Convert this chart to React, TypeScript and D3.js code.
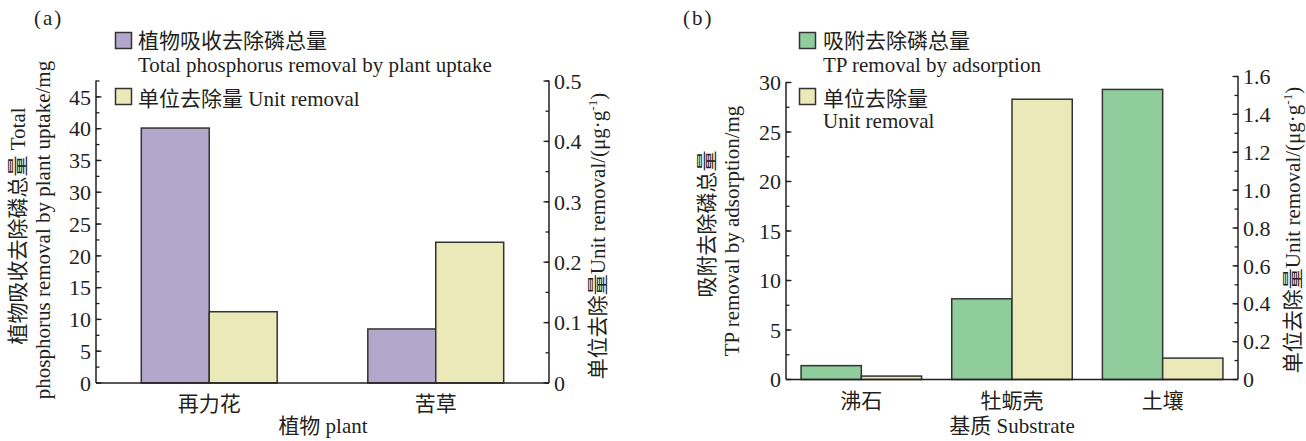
import React from 'react';
import * as d3 from 'd3';

const plants = ['再力花', '苦草'];
const plantTotal = [40.1, 8.5];
const plantUnit = [0.118, 0.233];

const substrates = ['沸石', '牡蛎壳', '土壤'];
const adsTotal = [1.4, 8.15, 29.3];
const adsUnit = [0.018, 1.48, 0.113];

const leftTicksA = d3.range(0, 46, 5);
const rightTicksA = [0, 0.1, 0.2, 0.3, 0.4, 0.5];
const leftTicksB = d3.range(0, 31, 5);
const rightTicksB = [0, 0.2, 0.4, 0.6, 0.8, 1.0, 1.2, 1.4, 1.6];

const FONT = "'Liberation Serif', 'Noto Sans CJK SC', serif";
const INK = '#231f20';
const PURPLE = '#b3a7cc';
const YELLOW = '#ece9b8';
const GREEN = '#8fcd9c';
const FS = 21;

function VAxis({ scale, ticks, minor, x, side, fmt, y0, y1 }: any) {
  const dir = side === 'left' ? 1 : -1;
  return (
    <g>
      <line x1={x} x2={x} y1={y0} y2={y1} stroke={INK} strokeWidth={1.5} />
      {minor.map((t: number, i: number) => (
        <line key={'m' + i} x1={x} x2={x + dir * 3.5} y1={scale(t)} y2={scale(t)} stroke={INK} strokeWidth={1.3} />
      ))}
      {ticks.map((t: number, i: number) => (
        <g key={i}>
          <line x1={x} x2={x + dir * 5.5} y1={scale(t)} y2={scale(t)} stroke={INK} strokeWidth={1.3} />
          <text
            x={side === 'left' ? x - 5 : x + 5}
            y={scale(t)}
            dy="0.35em"
            textAnchor={side === 'left' ? 'end' : 'start'}
            fontSize={FS + 1}
            fill={INK}
          >
            {fmt(t)}
          </text>
        </g>
      ))}
    </g>
  );
}

export default function App() {
  // Panel A
  const xA = d3.scaleBand<string>().domain(plants).range([96, 549]).padding(0);
  const yAL = d3.scaleLinear().domain([0, 47.5]).range([383, 81]);
  const yAR = d3.scaleLinear().domain([0, 0.5]).range([383, 81]);
  const bwA = xA.bandwidth() * 0.3;
  const minorAL = d3.range(0, 47.6, 2.5);
  const minorAR = d3.range(0, 0.501, 0.05);

  // Panel B
  const xB = d3.scaleBand<string>().domain(substrates).range([786, 1238]).padding(0);
  const yBL = d3.scaleLinear().domain([0, 30]).range([379.5, 82.5]);
  const yBR = d3.scaleLinear().domain([0, 1.6]).range([379.5, 76.5]);
  const bwB = xB.bandwidth() * 0.4;
  const minorBL = d3.range(0, 30.1, 2.5);
  const minorBR = d3.range(0, 1.601, 0.1);

  const fmtInt = (v: number) => String(v);
  const fmtA = (v: number) => (v === 0 ? '0' : d3.format('.1f')(v));
  const fmtB = (v: number) => (v === 0 ? '0' : d3.format('.1f')(v));

  return (
    <div style={{ position: 'absolute', left: 0, top: 0 }}>
      <svg width={1306} height={441} style={{ display: 'block', fontFamily: FONT }}>
        <rect width={1306} height={441} fill="#fff" />

        {/* ===== Panel A ===== */}
        <text x={34} y={25} fontSize={FS} fill={INK} letterSpacing={2}>(a)</text>

        {plants.map((p, i) => {
          const cx = (xA(p) as number) + xA.bandwidth() / 2;
          return (
            <g key={p}>
              <rect x={cx - bwA} y={yAL(plantTotal[i])} width={bwA} height={yAL(0) - yAL(plantTotal[i])}
                fill={PURPLE} stroke="#333" strokeWidth={1.5} />
              <rect x={cx} y={yAR(plantUnit[i])} width={bwA} height={yAR(0) - yAR(plantUnit[i])}
                fill={YELLOW} stroke="#333" strokeWidth={1.5} />
              <text x={cx} y={yAL(0) + 28} textAnchor="middle" fontSize={FS} fill={INK}>{p}</text>
            </g>
          );
        })}
        <line x1={96} x2={549} y1={383} y2={383} stroke={INK} strokeWidth={1.5} />
        <VAxis scale={yAL} ticks={leftTicksA} minor={minorAL} x={96} side="left" fmt={fmtInt} y0={383} y1={80.5} />
        <VAxis scale={yAR} ticks={rightTicksA} minor={minorAR} x={549} side="right" fmt={fmtA} y0={383} y1={80.5} />

        <text x={323} y={433} textAnchor="middle" fontSize={FS} fill={INK}>植物 plant</text>

        <text transform="translate(25,226) rotate(-90)" textAnchor="middle" fontSize={FS} fill={INK}>植物吸收去除磷总量 Total</text>
        <text transform="translate(50,230) rotate(-90)" textAnchor="middle" fontSize={FS} fill={INK}>phosphorus removal by plant uptake/mg</text>
        <text transform="translate(605,236) rotate(-90)" textAnchor="middle" fontSize={FS} fill={INK}>
          单位去除量Unit removal/(μg·g<tspan fontSize={13} dy={-8}>-1</tspan><tspan dy={8}>)</tspan>
        </text>

        {/* Legend A */}
        <rect x={115.5} y={32.5} width={16} height={16} fill={PURPLE} stroke="#333" strokeWidth={1.5} />
        <text x={138} y={48} fontSize={FS} fill={INK}>植物吸收去除磷总量</text>
        <text x={138} y={72} fontSize={FS} fill={INK}>Total phosphorus removal by plant uptake</text>
        <rect x={115.5} y={88.5} width={16} height={16} fill={YELLOW} stroke="#333" strokeWidth={1.5} />
        <text x={138} y={106} fontSize={FS} fill={INK}>单位去除量 Unit removal</text>

        {/* ===== Panel B ===== */}
        <text x={683} y={25} fontSize={FS} fill={INK} letterSpacing={2}>(b)</text>

        {substrates.map((s, i) => {
          const cx = (xB(s) as number) + xB.bandwidth() / 2;
          return (
            <g key={s}>
              <rect x={cx - bwB} y={yBL(adsTotal[i])} width={bwB} height={yBL(0) - yBL(adsTotal[i])}
                fill={GREEN} stroke="#333" strokeWidth={1.5} />
              <rect x={cx} y={yBR(adsUnit[i])} width={bwB} height={yBR(0) - yBR(adsUnit[i])}
                fill={YELLOW} stroke="#333" strokeWidth={1.5} />
              <text x={cx} y={yBL(0) + 28} textAnchor="middle" fontSize={FS} fill={INK}>{s}</text>
            </g>
          );
        })}
        <line x1={786} x2={1238} y1={379.5} y2={379.5} stroke={INK} strokeWidth={1.5} />
        <VAxis scale={yBL} ticks={leftTicksB} minor={minorBL} x={786} side="left" fmt={fmtInt} y0={379.5} y1={82} />
        <VAxis scale={yBR} ticks={rightTicksB} minor={minorBR} x={1238} side="right" fmt={fmtB} y0={379.5} y1={76} />

        <text x={1012} y={433} textAnchor="middle" fontSize={FS} fill={INK}>基质 Substrate</text>

        <text transform="translate(714,224) rotate(-90)" textAnchor="middle" fontSize={FS} fill={INK}>吸附去除磷总量</text>
        <text transform="translate(739,231) rotate(-90)" textAnchor="middle" fontSize={FS} fill={INK}>TP removal by adsorption/mg</text>
        <text transform="translate(1300,230) rotate(-90)" textAnchor="middle" fontSize={FS} fill={INK}>
          单位去除量Unit removal/(μg·g<tspan fontSize={13} dy={-8}>-1</tspan><tspan dy={8}>)</tspan>
        </text>

        {/* Legend B */}
        <rect x={799.5} y={32.5} width={16} height={16} fill={GREEN} stroke="#333" strokeWidth={1.5} />
        <text x={823} y={48} fontSize={FS} fill={INK}>吸附去除磷总量</text>
        <text x={823} y={72} fontSize={FS} fill={INK}>TP removal by adsorption</text>
        <rect x={799.5} y={88.5} width={16} height={16} fill={YELLOW} stroke="#333" strokeWidth={1.5} />
        <text x={823} y={106} fontSize={FS} fill={INK}>单位去除量</text>
        <text x={823} y={128} fontSize={FS} fill={INK}>Unit removal</text>
      </svg>
    </div>
  );
}
